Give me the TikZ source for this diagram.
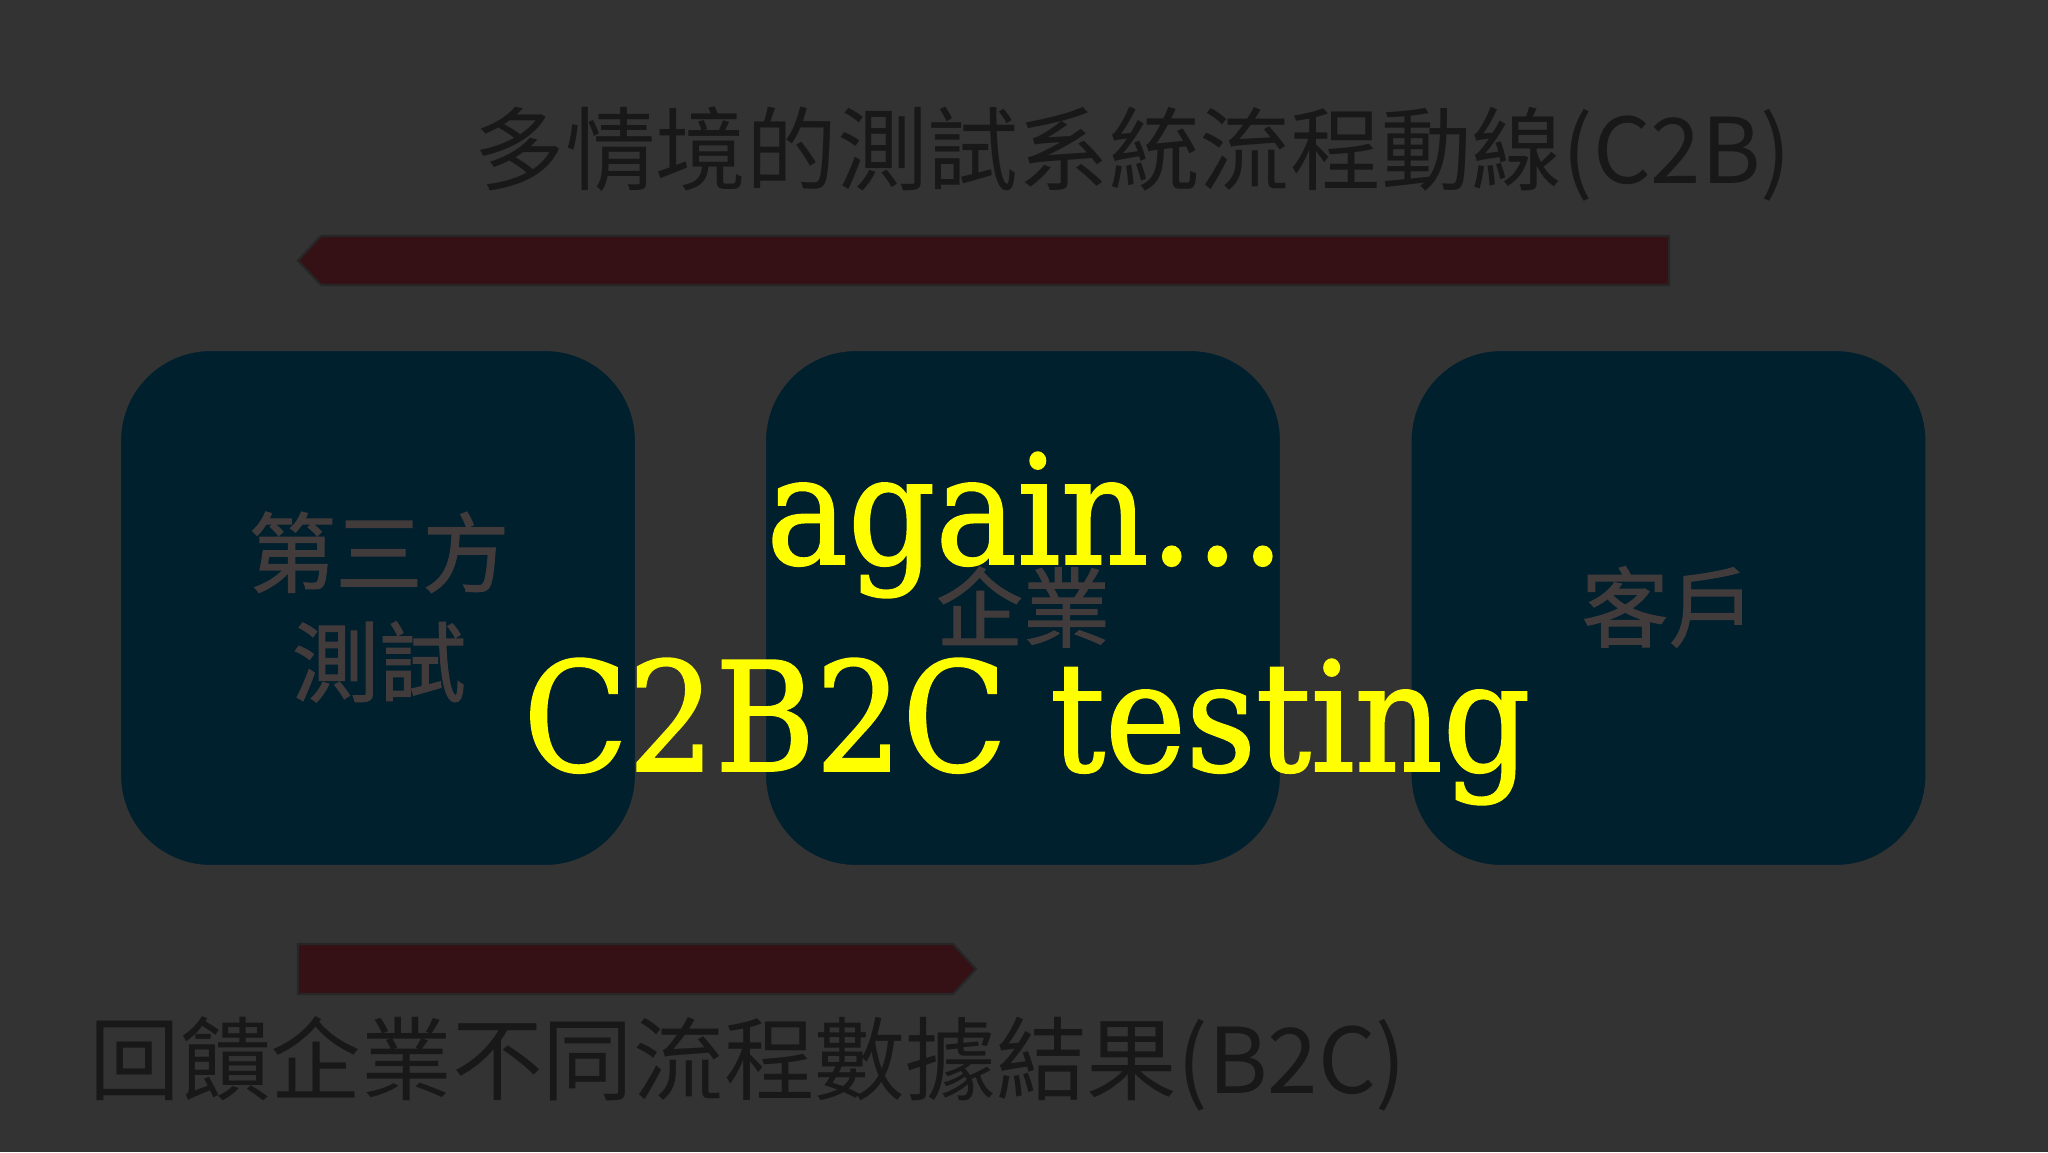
\documentclass[tikz,border=0pt]{standalone}
\usepackage{fontspec}
\newfontfamily\cjk{Noto Sans CJK TC}
\newfontfamily\cjkmid[FakeBold=1.3]{Noto Sans CJK TC}
\newfontfamily\yfont[FakeBold=1.2]{DejaVu Serif Condensed}
\definecolor{bg}{RGB}{51,51,51}
\definecolor{arrowfill}{RGB}{53,17,22}
\definecolor{boxfill}{RGB}{0,32,46}
\definecolor{boxtext}{RGB}{66,59,59}
\definecolor{titletext}{RGB}{24,24,24}
\definecolor{ylw}{RGB}{255,255,0}
\tikzset{
  x=0.375pt, y=-0.375pt,
  bandarrow/.style={fill=arrowfill, draw=black!85, line width=0.8pt, line join=miter},
  roundbox/.style={fill=boxfill, draw=black!80, line width=0.8pt, rounded corners=34pt,
    minimum width=193.5pt, minimum height=193.5pt, inner sep=0pt},
  boxlabel/.style={font=\cjkmid\fontsize{32.6}{41}\selectfont, text=boxtext, align=center},
  headline/.style={font=\cjk\fontsize{34}{40}\selectfont, text=titletext},
  bigtext/.style={font=\yfont\fontsize{57}{60}\selectfont, text=ylw, inner sep=0pt}
}
\begin{document}
\begin{tikzpicture}
\fill[bg] (0,0) rectangle (2048,1152);
\useasboundingbox (0,0) rectangle (2048,1152);

% title
\node[headline, anchor=center] (title) at (1133,154) {多情境的測試系統流程動線(C2B)};

% top arrow pointing left
\draw[bandarrow] (1669,236) -- (321,236) -- (298,260.5) -- (321,285) -- (1669,285) -- cycle;

% boxes
\node[roundbox] (b1) at (378,608) {};
\node[roundbox] (b2) at (1023,608) {};
\node[roundbox] (b3) at (1668.5,608) {};

\node[boxlabel] (l1) at (379,607) {第三方\\測試};
\node[boxlabel] (l2) at (1023,607) {企業};
\node[boxlabel] (l3) at (1668.5,607) {客戶};

% bottom arrow pointing right
\draw[bandarrow] (298,944) -- (953,944) -- (976,969) -- (953,994) -- (298,994) -- cycle;

% bottom caption
\node[headline, anchor=center] (caption) at (748,1064) {回饋企業不同流程數據結果(B2C)};

% overlay text
\node[bigtext, anchor=base] (t1) at (1026,564) {again…};
\node[bigtext, anchor=base] (t2) at (1027,771) {C2B2C testing};
\end{tikzpicture}
\end{document}
